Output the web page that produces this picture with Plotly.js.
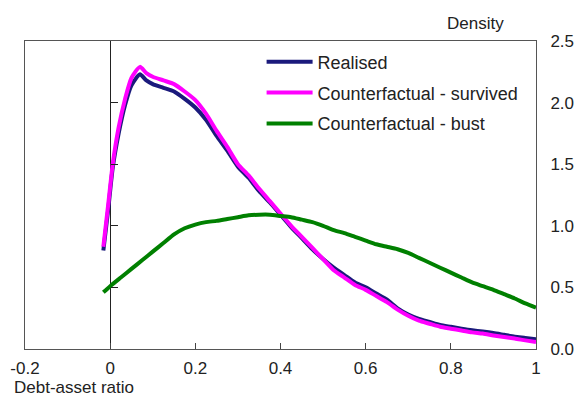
<!DOCTYPE html>
<html>
<head>
<meta charset="utf-8">
<script src="https://cdn.plot.ly/plotly-3.0.1.min.js"></script>
<style>html,body{margin:0;padding:0;background:#fff;}#chart{width:580px;height:401px;}</style>
</head>
<body>
<div id="chart"></div>
<script>
// Debt-asset ratio grid (x) for the two survived/realised curves
const xRS = [-0.016,-0.005,0.006,0.02,0.035,0.05,0.07,0.085,0.1,0.125,0.15,0.175,0.2,0.225,0.25,0.275,0.3,0.325,0.35,0.375,0.4,0.425,0.45,0.475,0.5,0.525,0.55,0.575,0.6,0.625,0.65,0.675,0.7,0.725,0.75,0.775,0.8,0.825,0.85,0.875,0.9,0.925,0.95,0.975,1.0];
const realised = [0.80,1.12,1.47,1.75,1.98,2.14,2.23,2.18,2.15,2.12,2.09,2.03,1.96,1.86,1.73,1.61,1.48,1.39,1.28,1.19,1.09,0.99,0.90,0.81,0.73,0.66,0.60,0.54,0.50,0.45,0.40,0.33,0.28,0.245,0.22,0.195,0.18,0.165,0.152,0.142,0.13,0.115,0.10,0.09,0.079];
const survived = [0.83,1.16,1.50,1.80,2.03,2.20,2.29,2.24,2.21,2.18,2.15,2.09,2.02,1.91,1.77,1.64,1.50,1.41,1.30,1.20,1.10,1.00,0.91,0.82,0.73,0.64,0.58,0.52,0.48,0.43,0.38,0.32,0.27,0.23,0.205,0.18,0.165,0.15,0.135,0.125,0.11,0.097,0.085,0.07,0.057];
const xB = [-0.016,0.0,0.025,0.05,0.075,0.1,0.125,0.15,0.175,0.2,0.225,0.25,0.275,0.3,0.325,0.35,0.375,0.4,0.425,0.45,0.475,0.5,0.525,0.55,0.575,0.6,0.625,0.65,0.675,0.7,0.725,0.75,0.775,0.8,0.825,0.85,0.875,0.9,0.925,0.95,0.975,1.0];
const bust = [0.46,0.51,0.58,0.65,0.72,0.79,0.86,0.93,0.98,1.01,1.03,1.04,1.055,1.07,1.085,1.09,1.09,1.08,1.07,1.05,1.03,1.00,0.965,0.94,0.91,0.88,0.85,0.83,0.81,0.78,0.74,0.70,0.66,0.62,0.58,0.54,0.51,0.48,0.445,0.41,0.37,0.336];
const xTickVals = [-0.2,0,0.2,0.4,0.6,0.8,1];
const xTickText = ['-0.2','0','0.2','0.4','0.6','0.8','1'];
const yTickVals = [0,0.5,1,1.5,2,2.5];
const yTickText = ['0.0','0.5','1.0','1.5','2.0','2.5'];
const zeroLineTicks = [0.5,1,1.5,2];
const names = ['Realised','Counterfactual - survived','Counterfactual - bust'];
const colors = ['#1b1a7c','#ff00ff','#008000'];

const FONT = 'Liberation Sans, Arial, sans-serif';
const traces = [
  {x:xRS, y:realised, name:names[0], legendgroup:'a', type:'scatter', mode:'lines', line:{color:colors[0], width:4, shape:'spline', smoothing:0.6}},
  {x:xRS, y:survived, name:names[1], legendgroup:'b', type:'scatter', mode:'lines', line:{color:colors[1], width:4, shape:'spline', smoothing:0.6}},
  {x:xB, y:bust, name:names[2], legendgroup:'c', type:'scatter', mode:'lines', line:{color:colors[2], width:4, shape:'spline', smoothing:0.6}},
  // empty helper trace so the zero-line tick axis (y2) is created
  {x:[], y:[], xaxis:'x', yaxis:'y2', type:'scatter', mode:'lines', showlegend:false, hoverinfo:'skip'}
];
const layout = {
  width:580, height:401,
  margin:{l:25, r:44, t:41, b:52},
  paper_bgcolor:'#fff', plot_bgcolor:'#fff',
  font:{family:FONT, size:17, color:'#222'},
  showlegend:true,
  legend:{x:0.463, y:0.992, xanchor:'left', yanchor:'top', bgcolor:'rgba(0,0,0,0)', font:{family:FONT, size:18, color:'#222'}, tracegroupgap:4.5, traceorder:'grouped', itemwidth:46},
  xaxis:{range:[-0.2,1], tickvals:xTickVals, ticktext:xTickText, ticks:'inside', ticklen:6, tickcolor:'#444', showgrid:false, zeroline:true, zerolinecolor:'#222', zerolinewidth:1, showline:true, mirror:true, linecolor:'#555', linewidth:1, ticklabelstandoff:4, tickfont:{family:FONT, size:17, color:'#222'}, fixedrange:true},
  yaxis:{range:[0,2.5], side:'right', tickvals:yTickVals, ticktext:yTickText, ticks:'', showgrid:false, zeroline:false, showline:true, mirror:true, linecolor:'#555', linewidth:1, ticklabelstandoff:10, tickfont:{family:FONT, size:17, color:'#222'}, fixedrange:true},
  yaxis2:{range:[0,2.5], overlaying:'y', anchor:'free', position:0.2/1.2, side:'left', tickvals:zeroLineTicks, ticks:'inside', ticklen:7, tickcolor:'#222', showticklabels:false, showline:false, showgrid:false, zeroline:false, fixedrange:true},
  annotations:[
    {text:'Density', xref:'paper', yref:'paper', x:0.941, y:1, xanchor:'right', yanchor:'bottom', yshift:6, showarrow:false, font:{family:FONT, size:17, color:'#222'}},
    {text:'Debt-asset ratio', xref:'paper', yref:'paper', x:-0.026, y:0, xanchor:'left', yanchor:'top', yshift:-27, showarrow:false, font:{family:FONT, size:17, color:'#222'}}
  ]
};
Plotly.newPlot('chart', traces, layout, {displayModeBar:false, staticPlot:true});
</script>
</body>
</html>
